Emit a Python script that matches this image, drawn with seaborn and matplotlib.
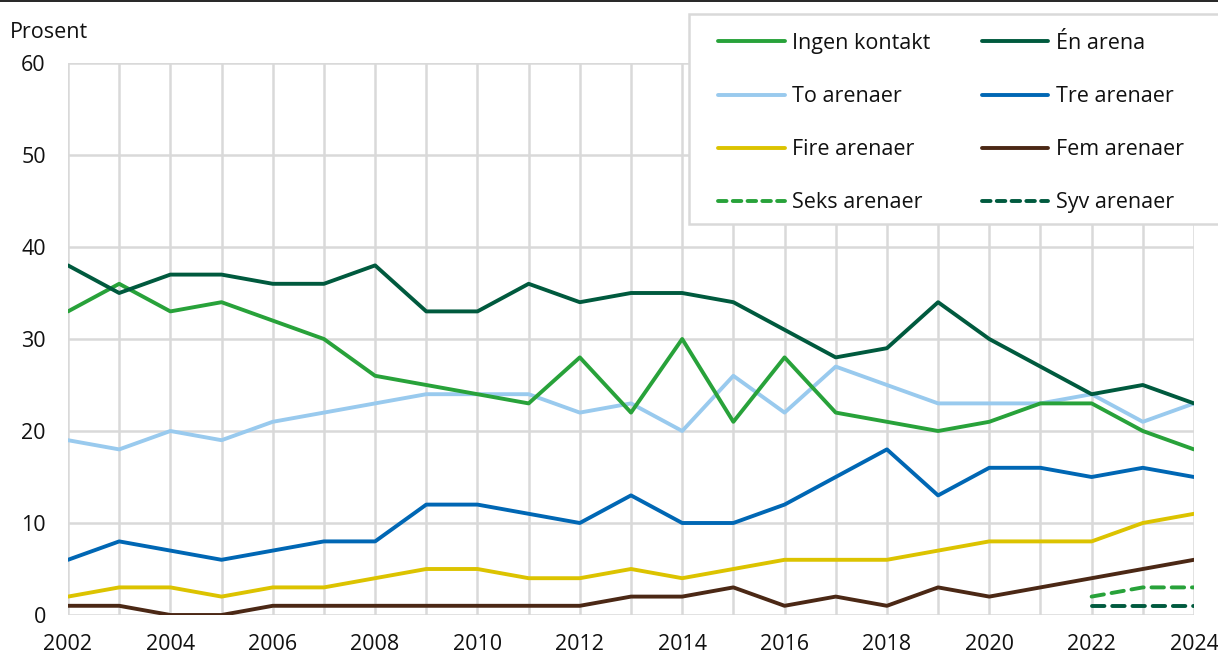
import matplotlib
matplotlib.use("Agg")
import matplotlib.pyplot as plt
from matplotlib.patches import Rectangle
from matplotlib.lines import Line2D
import seaborn as sns
import pandas as pd

years = list(range(2002, 2025))
ingen_kontakt = [33, 36, 33, 34, 32, 30, 26, 25, 24, 23, 28, 22, 30, 21, 28, 22, 21, 20, 21, 23, 23, 20, 18]
en_arena = [38, 35, 37, 37, 36, 36, 38, 33, 33, 36, 34, 35, 35, 34, 31, 28, 29, 34, 30, 27, 24, 25, 23]
to_arenaer = [19, 18, 20, 19, 21, 22, 23, 24, 24, 24, 22, 23, 20, 26, 22, 27, 25, 23, 23, 23, 24, 21, 23]
tre_arenaer = [6, 8, 7, 6, 7, 8, 8, 12, 12, 11, 10, 13, 10, 10, 12, 15, 18, 13, 16, 16, 15, 16, 15]
fire_arenaer = [2, 3, 3, 2, 3, 3, 4, 5, 5, 4, 4, 5, 4, 5, 6, 6, 6, 7, 8, 8, 8, 10, 11]
fem_arenaer = [1, 1, 0, 0, 1, 1, 1, 1, 1, 1, 1, 2, 2, 3, 1, 2, 1, 3, 2, 3, 4, 5, 6]
years_late = [2022, 2023, 2024]
seks_arenaer = [2, 3, 3]
syv_arenaer = [1, 1, 1]

y_ticks = [0, 10, 20, 30, 40, 50, 60]
x_tick_labels = list(range(2002, 2025, 2))

sns.set_theme(style="white")
plt.rcParams["font.family"] = ["Open Sans", "DejaVu Sans"]
FS = 15.5
TXT = "#111111"
LW = 2.8

W, H = 1218, 657
fig = plt.figure(figsize=(W / 100, H / 100), dpi=100)
ax = fig.add_axes([68 / W, 1 - 615 / H, (1194 - 68) / W, (615 - 63) / H])

series = [
    ("Ingen kontakt", years, ingen_kontakt, "#28a23a", "-"),
    ("To arenaer", years, to_arenaer, "#99caee", "-"),
    ("Fire arenaer", years, fire_arenaer, "#dcc300", "-"),
    ("Seks arenaer", years_late, seks_arenaer, "#28a23a", "--"),
    ("Én arena", years, en_arena, "#005a3e", "-"),
    ("Tre arenaer", years, tre_arenaer, "#0067b4", "-"),
    ("Fem arenaer", years, fem_arenaer, "#4b2815", "-"),
    ("Syv arenaer", years_late, syv_arenaer, "#005a3e", "--"),
]

draw_order = ["Fem arenaer", "Fire arenaer", "Tre arenaer", "To arenaer", "Ingen kontakt", "Én arena", "Seks arenaer", "Syv arenaer"]
lookup = {s[0]: s for s in series}
for name in draw_order:
    _, xs, ys, col, ls = lookup[name]
    df = pd.DataFrame({"x": xs, "y": ys})
    sns.lineplot(data=df, x="x", y="y", ax=ax, color=col, lw=LW, legend=False)
    line = ax.lines[-1]
    if ls == "--":
        line.set_dashes((3.2, 2.0))
        line.set_dash_capstyle("round")

ax.set_xlim(2002, 2024)
ax.set_ylim(0, 60)
ax.set_xticks(years)
ax.set_xticklabels([str(y) if y in x_tick_labels else "" for y in years])
ax.set_yticks(y_ticks)
ax.set_yticklabels([str(v) for v in y_ticks])
ax.grid(True, color="#d9d9d9", lw=1.8)
ax.set_axisbelow(True)
for s in ax.spines.values():
    s.set_visible(False)
ax.tick_params(axis="both", length=0, labelsize=FS, colors=TXT)
ax.tick_params(axis="y", pad=16)
ax.tick_params(axis="x", pad=14)
ax.set_xlabel("")
ax.set_ylabel("")

fig.text(10 / W, 1 - 32 / H, "Prosent", fontsize=FS, va="center", ha="left", color=TXT)

# top rule
fig.add_artist(Line2D([0, 1], [1 - 0.8 / H, 1 - 0.8 / H], transform=fig.transFigure, color="black", lw=1.2))

# legend box
rect = Rectangle((689 / W, 1 - 224 / H), (W + 10 - 689) / W, (224 - 14) / H, transform=fig.transFigure,
                 facecolor="white", edgecolor="#d9d9d9", lw=1.8, zorder=3)
fig.add_artist(rect)

handles = []
labels = []
for name, xs, ys, col, ls in series:
    h = Line2D([], [], color=col, lw=LW, solid_capstyle="round", dash_capstyle="round")
    if ls == "--":
        h.set_dashes((2.2, 1.6))
    handles.append(h)
    labels.append(name)

leg = fig.legend(handles, labels, ncol=2, loc="upper left", bbox_to_anchor=(718 / W, 1 - 33 / H),
                 frameon=False, fontsize=FS, handlelength=3.1, handletextpad=0.33,
                 labelspacing=1.49, columnspacing=2.4, borderpad=0, borderaxespad=0)
leg.set_zorder(4)
for t in leg.get_texts():
    t.set_color(TXT)

fig.savefig("out.png", dpi=100)
